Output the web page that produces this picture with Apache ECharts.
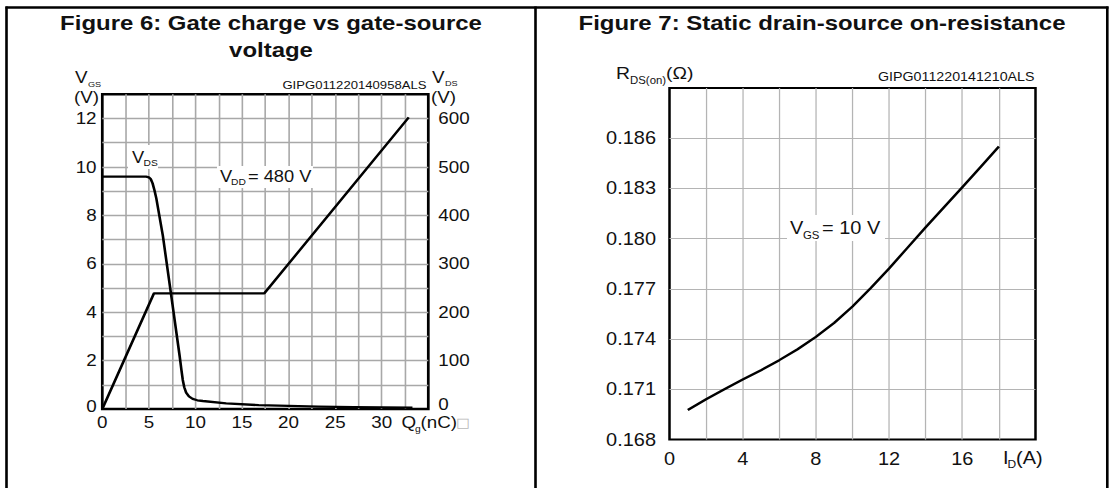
<!DOCTYPE html>
<html>
<head>
<meta charset="utf-8">
<script src="https://cdn.jsdelivr.net/npm/echarts@6/dist/echarts.min.js"></script>
<style>
html,body{margin:0;padding:0;background:#fff;overflow:hidden;}
#wrap{width:1112px;height:488px;overflow:hidden;background:#fff;}
#chart{width:975px;height:488px;transform:scaleX(1.140513);transform-origin:0 0;}
</style>
</head>
<body>
<div id="wrap"><div id="chart"></div></div>
<script>
// ---------- Figure 6 data: gate charge ----------
const fig6QgVgs = [0, 5.55, 17.4, 32.9];
const fig6Vgs   = [0, 4.78, 4.78, 12.05];
const fig6QgVds = [0, 4.7, 5.0, 5.2, 5.4, 5.6, 5.8, 6.1, 6.5, 7.47, 8.3, 8.5, 8.64, 8.8, 9.0, 9.3, 9.7, 10.2, 10.8, 13.3, 16.8, 20, 23.2, 27, 33.3];
const fig6Vds   = [480, 480, 478.5, 475, 466, 452, 435, 402, 358, 225, 110, 80, 60, 45, 34, 26, 21, 18, 16.5, 11.5, 8, 6.5, 5, 4, 3];
const fig6XTicks   = [0, 5, 10, 15, 20, 25, 30];
const fig6VgsTicks = [0, 2, 4, 6, 8, 10, 12];
const fig6VdsTicks = [0, 100, 200, 300, 400, 500, 600];

// ---------- Figure 7 data: on-resistance ----------
const fig7Id  = [1, 2, 3, 4, 5, 6, 7, 8, 9, 10, 11, 12, 13, 14, 15, 16, 17, 18];
const fig7Rds = [0.16976, 0.17040, 0.17100, 0.17158, 0.17214, 0.17274, 0.17339, 0.17413, 0.17497,
                 0.17595, 0.17705, 0.17822, 0.17945, 0.18068, 0.18188, 0.18307, 0.18428, 0.18550];
const fig7XTicks   = [0, 4, 8, 12, 16];
const fig7RdsTicks = [0.168, 0.171, 0.174, 0.177, 0.180, 0.183, 0.186];

// ---------- helpers ----------
const S = 1112 / 975;            // horizontal stretch of the reference
const X = v => v / S;            // screen x -> chart x
const FONT = '"Liberation Sans", Arial, Helvetica, sans-serif';
const zip = (a, b) => a.map((v, i) => [v, b[i]]);
const has = (arr, v) => arr.some(t => Math.abs(t - v) < 1e-6);

function T(text, sx, y, size, o) {
  o = o || {};
  return {
    type: 'text', x: X(sx), y: y, z: 20,
    style: {
      text: text, fill: o.fill || '#111', fontSize: size,
      fontFamily: o.family || FONT, fontWeight: o.bold ? 'bold' : 'normal',
      align: o.align || 'left', textAlign: o.align || 'left',
      verticalAlign: 'middle', textVerticalAlign: 'middle'
    }
  };
}
function R(sx1, y1, sx2, y2) {
  return { type: 'rect', z: 15, shape: { x: X(sx1), y: y1, width: X(sx2) - X(sx1), height: y2 - y1 }, style: { fill: '#fff' } };
}
function L(sx1, y1, sx2, y2, w) {
  return { type: 'line', z: 30, shape: { x1: X(sx1), y1: y1, x2: X(sx2), y2: y2 }, style: { stroke: '#000', lineWidth: w } };
}

const g6 = { l: 102.3, r: 428.3, t: 94.3, b: 409 };
const g7 = { l: 669.5, r: 1035.5, t: 88, b: 439.5 };

const chart = echarts.init(document.getElementById('chart'), null, { renderer: 'svg' });

const option = {
  animation: false,
  backgroundColor: '#fff',
  grid: [
    { left: X(g6.l), top: g6.t, width: X(g6.r) - X(g6.l), height: g6.b - g6.t,
      show: true, borderColor: '#000', borderWidth: 2.4, backgroundColor: 'transparent', containLabel: false, outerBoundsMode: 'none' },
    { left: X(g7.l), top: g7.t, width: X(g7.r) - X(g7.l), height: g7.b - g7.t,
      show: true, borderColor: '#000', borderWidth: 2.2, backgroundColor: 'transparent', containLabel: false, outerBoundsMode: 'none' }
  ],
  xAxis: [
    { gridIndex: 0, type: 'value', min: 0, max: 35, interval: 2.5,
      axisLine: { show: false }, axisTick: { show: false },
      splitLine: { show: true, showMinLine: false, showMaxLine: false, lineStyle: { color: '#a8a8a8', width: 1.4 } },
      axisLabel: { margin: 5, fontSize: 16.5, color: '#111', fontFamily: FONT,
        formatter: v => has(fig6XTicks, v) ? String(v) : '' } },
    { gridIndex: 1, type: 'value', min: 0, max: 20, interval: 2,
      axisLine: { show: false }, axisTick: { show: false },
      splitLine: { show: true, showMinLine: false, showMaxLine: false, lineStyle: { color: '#b4b4b4', width: 1.1 } },
      axisLabel: { margin: 10, fontSize: 17.5, color: '#111', fontFamily: FONT,
        formatter: v => has(fig7XTicks, v) ? String(v) : '' } }
  ],
  yAxis: [
    { gridIndex: 0, type: 'value', min: 0, max: 13, interval: 1,
      axisLine: { show: false }, axisTick: { show: false },
      splitLine: { show: true, showMinLine: false, showMaxLine: false, lineStyle: { color: '#a8a8a8', width: 1.4 } },
      axisLabel: { margin: 5, fontSize: 16.5, color: '#111', fontFamily: FONT,
        rich: { lo: { fontSize: 16.5, fontFamily: FONT, color: '#111', padding: [0, 0, 6, 0] } },
        formatter: v => !has(fig6VgsTicks, v) ? '' : (v === 0 ? '{lo|0}' : String(v)) } },
    { gridIndex: 0, type: 'value', position: 'right', min: 0, max: 650, interval: 50,
      axisLine: { show: false }, axisTick: { show: false }, splitLine: { show: false },
      axisLabel: { margin: X(10), fontSize: 16.5, color: '#111', fontFamily: FONT,
        rich: { lo: { fontSize: 16.5, fontFamily: FONT, color: '#111', padding: [0, 0, 10, 0] } },
        formatter: v => !has(fig6VdsTicks, v) ? '' : (v === 0 ? '{lo|0}' : String(v)) } },
    { gridIndex: 1, type: 'value', min: 168, max: 189, interval: 3,
      axisLine: { show: false }, axisTick: { show: false },
      splitLine: { show: true, showMinLine: false, showMaxLine: false, lineStyle: { color: '#b4b4b4', width: 1.1 } },
      axisLabel: { margin: X(13.5), fontSize: 17.5, color: '#111', fontFamily: FONT,
        formatter: v => { const t = fig7RdsTicks.find(k => Math.abs(k * 1000 - v) < 1e-6); return t === undefined ? '' : t.toFixed(3); } } }
  ],
  series: [
    { type: 'line', xAxisIndex: 0, yAxisIndex: 0, data: zip(fig6QgVgs, fig6Vgs),
      showSymbol: false, lineStyle: { color: '#000', width: 2.3 }, z: 5 },
    { type: 'line', xAxisIndex: 0, yAxisIndex: 1, data: zip(fig6QgVds, fig6Vds),
      showSymbol: false, lineStyle: { color: '#000', width: 2.3, join: 'round' }, z: 5 },
    { type: 'line', xAxisIndex: 1, yAxisIndex: 2, data: zip(fig7Id, fig7Rds.map(v => v * 1000)),
      showSymbol: false, lineStyle: { color: '#000', width: 2.3, join: 'round' }, z: 5 }
  ],
  graphic: [
    // table borders
    L(5.5, 7.5, 1108.5, 7.5, 2.6),
    L(6.5, 6.5, 6.5, 488, 2.3),
    L(535.5, 6.5, 535.5, 488, 2.3),
    L(1107.3, 6.5, 1107.3, 488, 2.3),

    // Figure 6 texts
    T('Figure 6: Gate charge vs gate-source', 271, 23, 21, { bold: true, align: 'center' }),
    T('voltage', 271, 50, 21, { bold: true, align: 'center' }),
    T('V', 75, 77, 16.5), T('GS', 88, 84, 8),
    T('(V)', 74, 97, 16.5),
    T('GIPG011220140958ALS', 426.5, 85, 11.5, { align: 'right' }),
    T('V', 432, 77, 16.5), T('DS', 445, 83, 8),
    T('(V)', 431, 97, 16.5),
    R(128, 145, 158, 169),
    T('V', 132, 157, 16), T('DS', 143.5, 163, 9),
    R(217, 166, 313, 188),
    T('V', 220, 176, 16), T('DD', 231, 182, 9), T('= 480 V', 248, 176, 16),
    T('Q', 401.5, 422, 16.5), T('g', 415, 429, 9), T('(nC)', 420.5, 422, 16.5),
    T('\u25A1', 456, 422, 13, { fill: '#b8b8b8', family: '"DejaVu Sans", sans-serif' }),

    // Figure 7 texts
    T('Figure 7: Static drain-source on-resistance', 822, 23, 21, { bold: true, align: 'center' }),
    T('R', 616, 72.5, 17), T('DS(on)', 630, 80, 10), T('(\u03A9)', 666, 72.5, 17),
    T('GIPG011220141210ALS', 1034.5, 77, 12.5, { align: 'right' }),
    R(787, 215, 885, 241),
    T('V', 790, 228, 17.5), T('GS', 803, 235, 10), T('= 10 V', 822, 228, 17.5),
    T('I', 1003, 458, 17.5), T('D', 1007.5, 464, 10.5), T('(A)', 1016, 458, 17.5)
  ]
};
chart.setOption(option);
</script>
</body>
</html>
